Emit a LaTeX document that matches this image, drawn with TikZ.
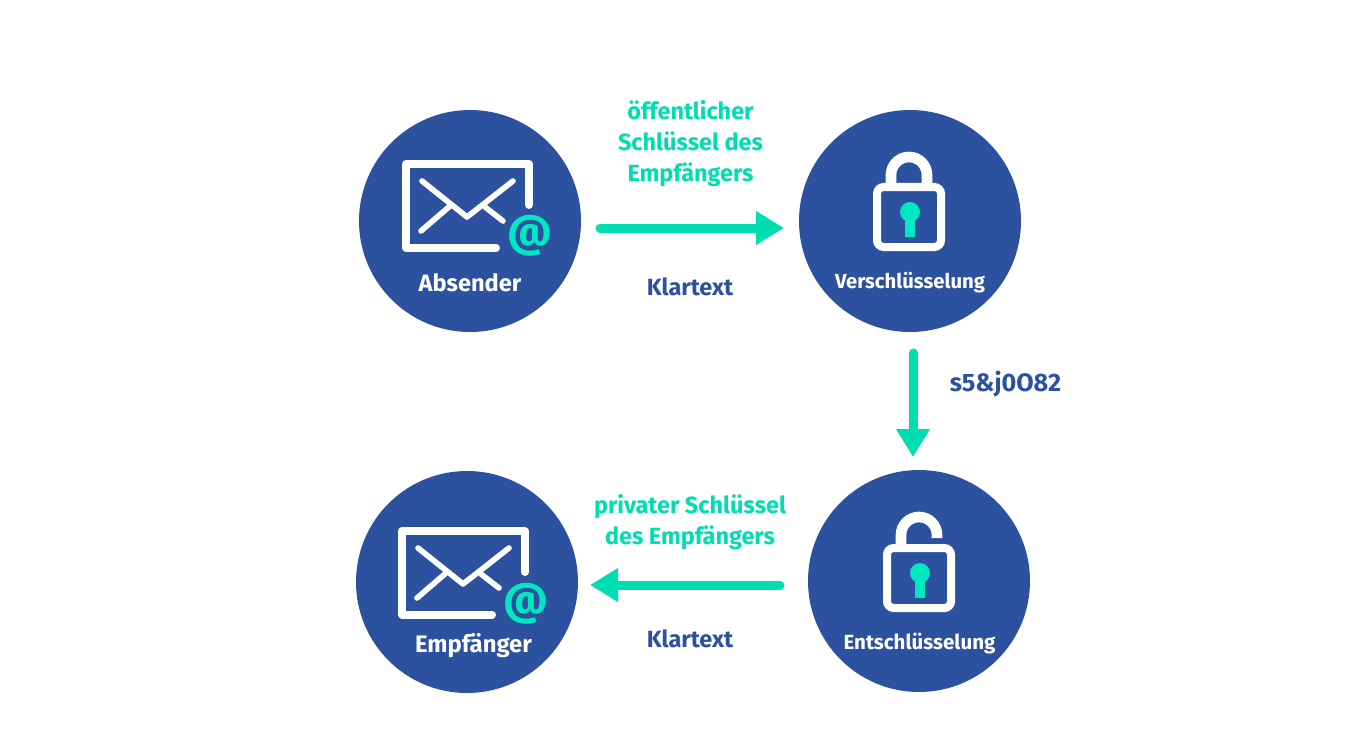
\documentclass[tikz,border=0pt]{standalone}
\usepackage{fontspec}
\setmainfont{Fira Sans}
\usetikzlibrary{arrows.meta}
\definecolor{navy}{HTML}{2C519F}
\definecolor{mint}{HTML}{00DDB0}
\definecolor{keyc}{HTML}{00E8C0}
\tikzset{
 x=0.75pt,y=-0.75pt,
 disc/.style={circle,fill=navy,minimum size=166.5pt,inner sep=0pt,outer sep=0pt},
 frameline/.style={draw=white,line width=6pt,line cap=round,line join=round},
 flapline/.style={draw=white,line width=4.2pt,line cap=round,line join=round},
 shackle/.style={draw=white,line width=8pt},
 lockbody/.style={draw=white,line width=6pt,rounded corners=5pt},
 keyhole/.style={fill=keyc},
 flow/.style={draw=mint,line width=6.75pt,line cap=round,-{Triangle[length=21pt,width=24pt,line cap=butt,line join=miter]}},
 disclabel/.style={text=white,inner sep=0pt},
 minttext/.style={text=mint,font=\bfseries\fontsize{17.6}{23}\selectfont,align=center,inner sep=0pt},
 navytext/.style={text=navy,font=\bfseries\fontsize{17.6}{20}\selectfont,inner sep=0pt},
 attext/.style={text=keyc,font=\bfseries\fontsize{33}{33}\selectfont,inner sep=0pt},
}
\newcommand{\envelope}[2]{%
 \begin{scope}[shift={(#1,#2)}]
 \path[frameline] (90,-16) -- (90,-57) -- (-33,-57) -- (-33,26.5) -- (57,26.5);
 \path[flapline] (-17,-40) -- (28,-4) -- (74,-40);
 \path[flapline] (-18,10) -- (11,-15);
 \path[flapline] (46,-14) -- (64,0);
 \end{scope}}
\newcommand{\lockbase}[2]{%
 \begin{scope}[shift={(#1,#2)}]
 \path[lockbody] (-32,-30) rectangle (32,30);
 \fill[keyhole] (-4,-8) -- (-4,20) -- (6,20) -- (6,-8) -- cycle;
 \fill[keyhole] (1,-5) circle[radius=10];
 \end{scope}}
\begin{document}
\begin{tikzpicture}
\useasboundingbox[fill=white] (0,0) rectangle (1370,756);
\node[disc] (abs) at (470,221) {};
\node[disc] (ver) at (910,221) {};
\node[disc] (ent) at (919,581) {};
\node[disc] (emp) at (467,582) {};

\envelope{439}{221}
\envelope{435}{588}
\node[attext] (at1) at (530,236) {@};
\node[attext] (at2) at (526,604) {@};

\lockbase{909}{217}
\path[shackle] (891,187) -- (891,175) arc[start angle=180,end angle=360,radius=18] -- (927,187);
\lockbase{919}{578}
\path[shackle] (901,548) -- (901,535) arc[start angle=180,end angle=360,radius=18] -- (937,538);

\node[disclabel,font=\bfseries\fontsize{17.7}{20}\selectfont] (labs) at (470,283) {Absender};
\node[disclabel,font=\bfseries\fontsize{15.2}{20}\selectfont] (lver) at (910,282.5) {Verschlüsselung};
\node[disclabel,font=\bfseries\fontsize{15.4}{20}\selectfont] (lent) at (919.5,643.5) {Entschlüsselung};
\node[disclabel,font=\bfseries\fontsize{17.9}{20}\selectfont] (lemp) at (473.5,645.5) {Empfänger};

\coordinate (a1) at (600,228);
\coordinate (a2) at (784,228);
\coordinate (b1) at (913,353);
\coordinate (b2) at (913,457);
\coordinate (c1) at (780,585);
\coordinate (c2) at (590,585);
\draw[flow] (a1) -- (a2);
\draw[flow] (b1) -- (b2);
\draw[flow] (c1) -- (c2);

\node[minttext] (pub) at (690.5,143.5) {öffentlicher\\Schlüssel des\\Empfängers};
\node[minttext] (priv) at (690,522) {privater Schlüssel\\des Empfängers};
\node[navytext] (k1) at (690,287) {Klartext};
\node[navytext] (k2) at (690,639) {Klartext};
\node[navytext,font=\bfseries\fontsize{18.9}{20}\selectfont] (cipher) at (1005.5,384) {s5\&j0O82};
\end{tikzpicture}
\end{document}
